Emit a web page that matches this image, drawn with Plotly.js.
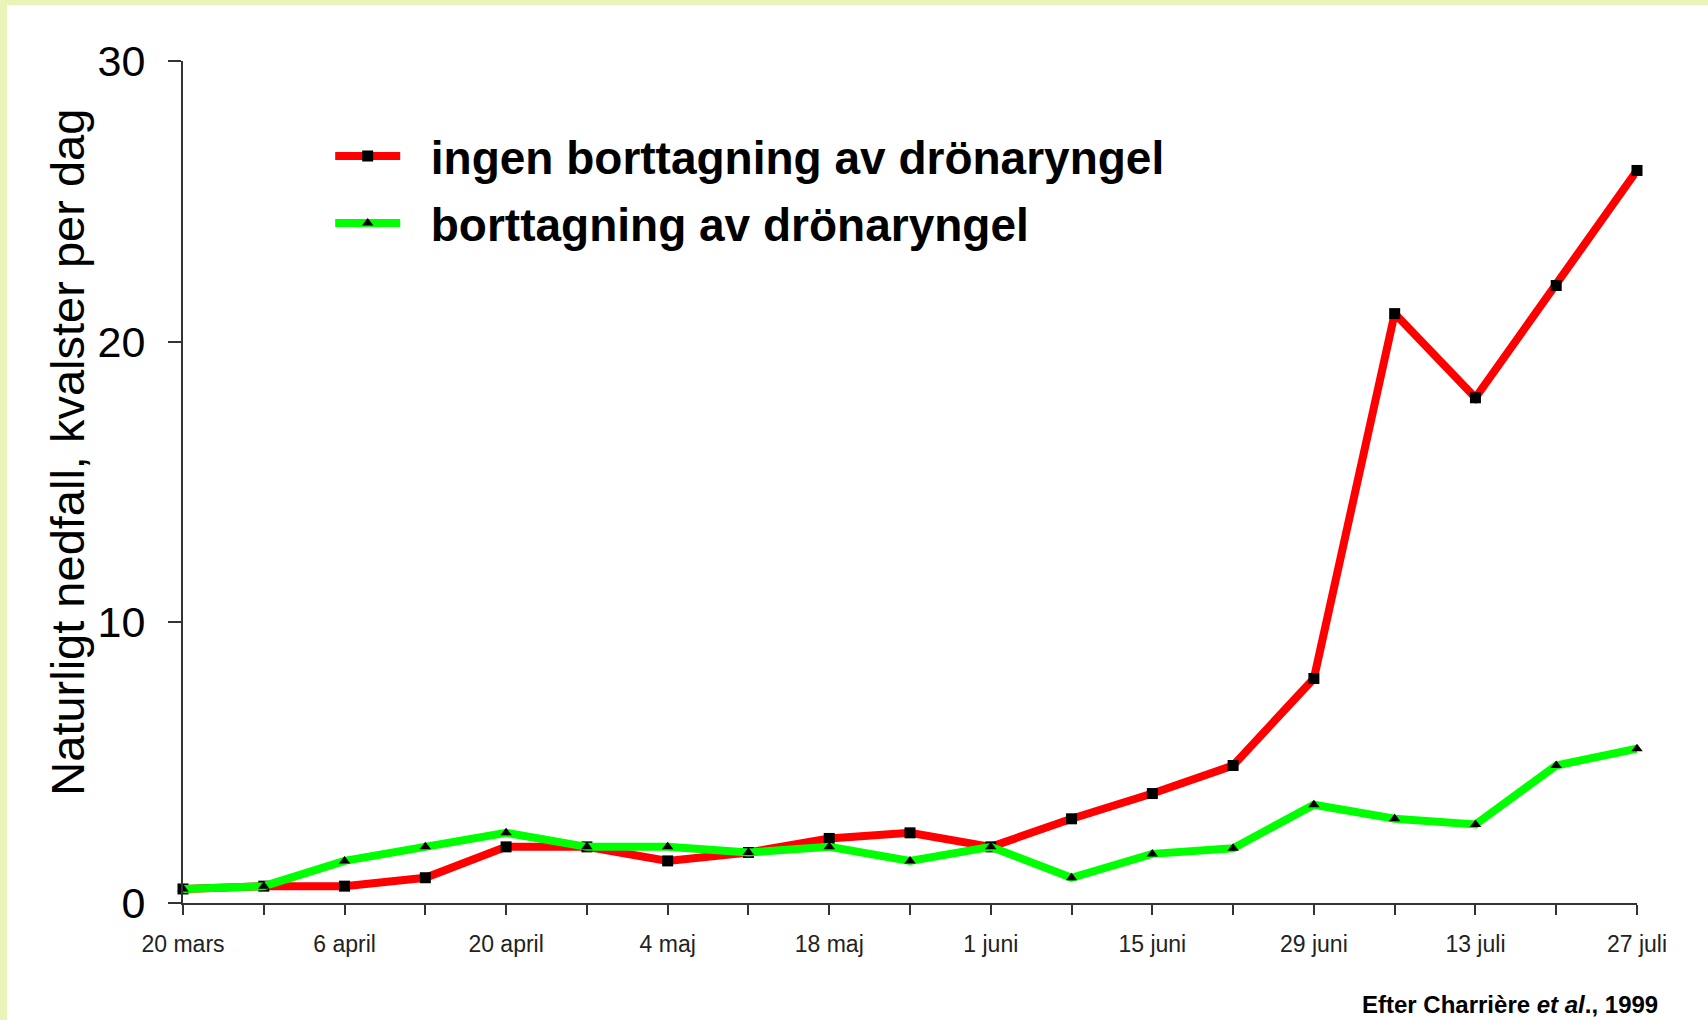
<!DOCTYPE html>
<html>
<head>
<meta charset="utf-8">
<script src="https://cdn.plot.ly/plotly-3.0.1.min.js"></script>
<style>
  html, body { margin: 0; padding: 0; background: #e9f4b8; }
  body { width: 1708px; height: 1020px; overflow: hidden; position: relative; }
  #chart { position: absolute; left: 7px; top: 5px; width: 1701px; height: 1015px; background: #ffffff; }
</style>
</head>
<body>
<div id="chart"></div>
<script>
// Sample weeks (one per tick on the x axis)
const weeks = [0, 1, 2, 3, 4, 5, 6, 7, 8, 9, 10, 11, 12, 13, 14, 15, 16, 17, 18];
// Labelled ticks
const tickWeeks = [0, 2, 4, 6, 8, 10, 12, 14, 16, 18];
const tickLabels = ['20 mars', '6 april', '20 april', '4 maj', '18 maj', '1 juni', '15 juni', '29 juni', '13 juli', '27 juli'];
// Series
const seriesNames = ['ingen borttagning av drönaryngel', 'borttagning av drönaryngel'];
const ingenBorttagning = [0.5, 0.6, 0.6, 0.9, 2.0, 2.0, 1.5, 1.8, 2.3, 2.5, 2.0, 3.0, 3.9, 4.9, 8.0, 21.0, 18.0, 22.0, 26.1];
const borttagning = [0.5, 0.6, 1.5, 2.0, 2.5, 2.0, 2.0, 1.8, 2.0, 1.5, 2.0, 0.9, 1.75, 1.95, 3.5, 3.0, 2.8, 4.9, 5.5];
const yTicks = [0, 10, 20, 30];

const FONT = 'Liberation Sans, Arial, sans-serif';
const PAD = '\u00a0\u00a0';

const traces = [
  {
    x: weeks, y: ingenBorttagning, name: PAD + seriesNames[0],
    type: 'scatter', mode: 'lines+markers',
    line: { color: '#ff0000', width: 8 },
    marker: { symbol: 'square', size: 11, color: '#000000' },
    cliponaxis: false, legendgroup: 'a'
  },
  {
    x: weeks, y: borttagning, name: PAD + seriesNames[1],
    type: 'scatter', mode: 'lines+markers',
    line: { color: '#00ff00', width: 8 },
    marker: { symbol: 'triangle-up', size: 10, color: '#000000' },
    cliponaxis: false, legendgroup: 'b'
  }
];

const layout = {
  width: 1701, height: 1015,
  paper_bgcolor: '#ffffff', plot_bgcolor: '#ffffff',
  margin: { l: 176, r: 71, t: 56, b: 117, autoexpand: false },
  font: { family: FONT, color: '#000000' },
  showlegend: true,
  legend: {
    xref: 'container', yref: 'container',
    x: 0.19, y: 0.887, xanchor: 'left', yanchor: 'top',
    font: { family: FONT, size: 46, color: '#000000', weight: 'bold' },
    bgcolor: 'rgba(0,0,0,0)', itemwidth: 65, traceorder: 'grouped', tracegroupgap: 4
  },
  xaxis: {
    range: [0, 18], showgrid: false, zeroline: false, automargin: false,
    showline: true, linecolor: '#333333', linewidth: 2,
    ticks: 'outside', ticklen: 10, tickwidth: 2, tickcolor: '#333333',
    tickmode: 'array', tickvals: weeks, tickangle: 0,
    ticktext: weeks.map(w => { const i = tickWeeks.indexOf(w); return i >= 0 ? tickLabels[i] : ''; }),
    tickfont: { family: FONT, size: 23, color: '#222222' },
    ticklabelstandoff: 9
  },
  yaxis: {
    range: [0, 30], showgrid: false, zeroline: false, automargin: false,
    showline: true, linecolor: '#333333', linewidth: 2,
    ticks: 'outside', ticklen: 13, tickwidth: 2, tickcolor: '#333333',
    tickmode: 'array', tickvals: yTicks, ticktext: yTicks.map(String),
    tickfont: { family: FONT, size: 43, color: '#000000' },
    ticklabelstandoff: 14
  },
  annotations: [
    {
      xref: 'paper', yref: 'paper', x: -0.080, y: 0.5356,
      text: 'Naturligt nedfall, kvalster per dag', textangle: -90, showarrow: false,
      font: { family: FONT, size: 47, color: '#000000' },
      xanchor: 'center', yanchor: 'middle'
    },
    {
      xref: 'paper', yref: 'paper', x: 1.016, y: -0.1385,
      text: 'Efter Charrière <i>et al</i>., 1999', showarrow: false,
      font: { family: FONT, size: 24, color: '#000000', weight: 'bold' },
      xanchor: 'right', yanchor: 'bottom'
    }
  ]
};

Plotly.newPlot('chart', traces, layout, { displayModeBar: false, staticPlot: true });
</script>
</body>
</html>
